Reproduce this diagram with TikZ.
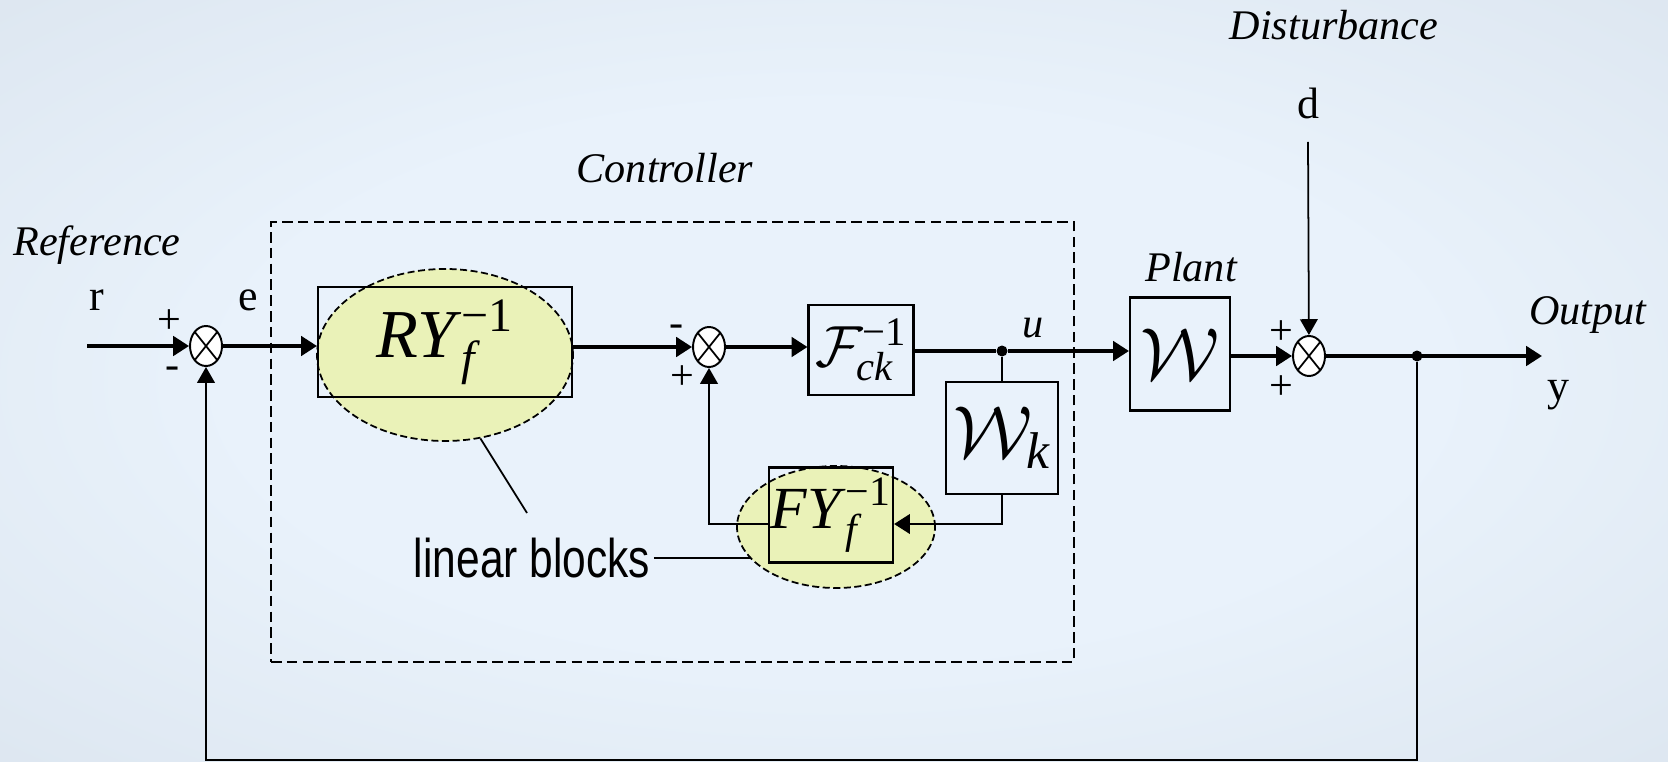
\RequirePackage{fix-cm}
\documentclass[tikz,border=0pt]{standalone}
\usepackage{amsmath}
\usepackage{fontspec}
\setmainfont{Liberation Serif}
\newfontfamily\narrowsans[FakeStretch=0.78]{Liberation Sans}
\usepackage{tikz}
\usetikzlibrary{shapes.geometric, arrows.meta, positioning}
\definecolor{bginner}{RGB}{233,242,251}
\definecolor{bgouter}{RGB}{198,208,220}
\definecolor{linyellow}{RGB}{234,242,184}
\pgfdeclareradialshading{bgglow}{\pgfpoint{0bp}{0bp}}{color(0bp)=(bginner); color(18bp)=(bginner); color(71bp)=(bgouter)}

\begin{document}
\begin{tikzpicture}[x=0.2mm, y=-0.2mm,
    every node/.style={font=\fontsize{25}{30}\selectfont},
    block/.style={draw, line width=1.2pt, inner sep=0pt},
    linblob/.style={ellipse, draw, dash pattern=on 4pt off 2pt, line width=1pt,
                    fill=linyellow, inner sep=0pt},
    summer/.style={ellipse, draw, line width=1.1pt, fill=white, inner sep=0pt,
                   minimum width=6.4mm, minimum height=8mm,
                   path picture={\draw[line width=1pt]
                     (path picture bounding box.north west) -- (path picture bounding box.south east)
                     (path picture bounding box.north east) -- (path picture bounding box.south west);}},
    junc/.style={circle, fill, inner sep=0pt, minimum size=2.2mm},
    itlabel/.style={font=\fontsize{24}{28}\selectfont\itshape},
    pm/.style={font=\fontsize{24}{26}\selectfont},
    sig/.style={line width=2pt, -{Triangle[length=9pt, width=11pt]}},
    wire/.style={line width=1pt},
    wirearrow/.style={line width=1pt, -{Triangle[length=9pt, width=10pt]}},
]

%% fondo degradado
\useasboundingbox (0,0) rectangle (1668,762);
\shade[shading=bgglow] (0,0) rectangle (1668,762);

%% caja del controlador
\node[draw, dash pattern=on 6pt off 3pt, line width=1.6pt,
      minimum width=160.6mm, minimum height=88mm] at (672.5,442) (ctrl) {};
\node[itlabel] at (665,168) (ctrltag) {Controller};

%% elipses de bloques lineales
\node[linblob, minimum width=51.2mm, minimum height=34.4mm] at (445,355) (ery) {};
\node[linblob, minimum width=39.6mm, minimum height=24.4mm] at (836,527) (efy) {};

%% bloques
\node[block, minimum width=50.8mm, minimum height=22mm] at (445,342) (ry)
     {\fontsize{39}{42}\selectfont$\textit{RY\/}^{\text{−1}}_{\textit{f}}$};
\node[block, minimum width=21mm, minimum height=18mm] at (861,350) (fck)
     {\fontsize{33}{36}\selectfont$\mathcal{F}^{\text{−1}}_{\textit{ck}}$};
\node[block, minimum width=22.4mm, minimum height=22.4mm] at (1002,438) (wk)
     {\fontsize{42}{46}\selectfont$\mathcal{W}_{\textit{k}}$};
\node[block, minimum width=24.8mm, minimum height=19mm] at (831,515) (fy)
     {\fontsize{34}{38}\selectfont$\textit{FY\/}^{\text{−1}}_{\textit{f}}$};
\node[block, minimum width=20mm, minimum height=22.6mm] at (1180,354) (plant)
     {\fontsize{42}{46}\selectfont$\mathcal{W}$};

%% sumadores y puntos
\node[summer] at (206,346) (s1) {};
\node[summer] at (709,347) (s2) {};
\node[summer] at (1309,356) (s3) {};
\node[junc] at (1002,351) (ju) {};
\node[junc] at (1417,356) (jy) {};

\coordinate (rin)   at (87,346);
\coordinate (din)   at (1308,142);
\coordinate (yout)  at (1542,356);
\coordinate (fbl)   at (206,760);
\coordinate (lbtip) at (527,513);

%% etiquetas
\node[itlabel] at (97,245)   (reftag)  {Reference};
\node          at (97,300)   (rtag)    {r};
\node[pm]      at (169,322)  (s1plus)  {+};
\node[pm]      at (173,373)  (s1minus) {-};
\node          at (248,300)  (etag)    {e};
\node[pm]      at (677,331)  (s2minus) {-};
\node[pm]      at (682,378)  (s2plus)  {+};
\node[itlabel] at (1033,328) (utag)    {u};
\node[itlabel] at (1191,267) (planttag){Plant};
\node[pm]      at (1281,333) (s3plusa) {+};
\node[pm]      at (1281,388) (s3plusb) {+};
\node          at (1308,103) (dtag)    {d};
\node[itlabel] at (1334,25)  (disttag) {Disturbance};
\node[itlabel] at (1588,315) (outtag)  {Output};
\node          at (1558,395) (ytag)    {y};
\node[font=\narrowsans\fontsize{31}{36}\selectfont, inner sep=2pt] at (532,558) (lb) {linear blocks};

%% flechas
\draw[sig] (rin) -- (s1);
\draw[sig] (s1) -- (s1 -| ry.west);
\draw[sig] (ry.east |- s2) -- (s2);
\draw[sig] (s2) -- (s2 -| fck.west);
\draw[line width=2pt] (fck.east |- ju) -- (ju);
\draw[sig] (ju) -- (ju -| plant.west);
\draw[wire] (ju) -- (wk);
\draw[line width=1.6pt, -{Triangle[length=9pt, width=11pt]}] (wk.south) |- ([yshift=-1.8mm]fy.east);
\draw[wirearrow] ([yshift=-1.8mm]fy.west) -| (s2);
\draw[sig] (plant.east |- s3) -- (s3);
\draw[wirearrow] (din) -- (s3);
\draw[sig] (s3) -- (yout);
\draw[wirearrow] (jy) |- (fbl) -- (s1);

%% lineas de la nota
\draw[wire] (lbtip) -- (ery.293);
\draw[wire] (lb.east) -- (lb.east -| efy.200);

\end{tikzpicture}
\end{document}
